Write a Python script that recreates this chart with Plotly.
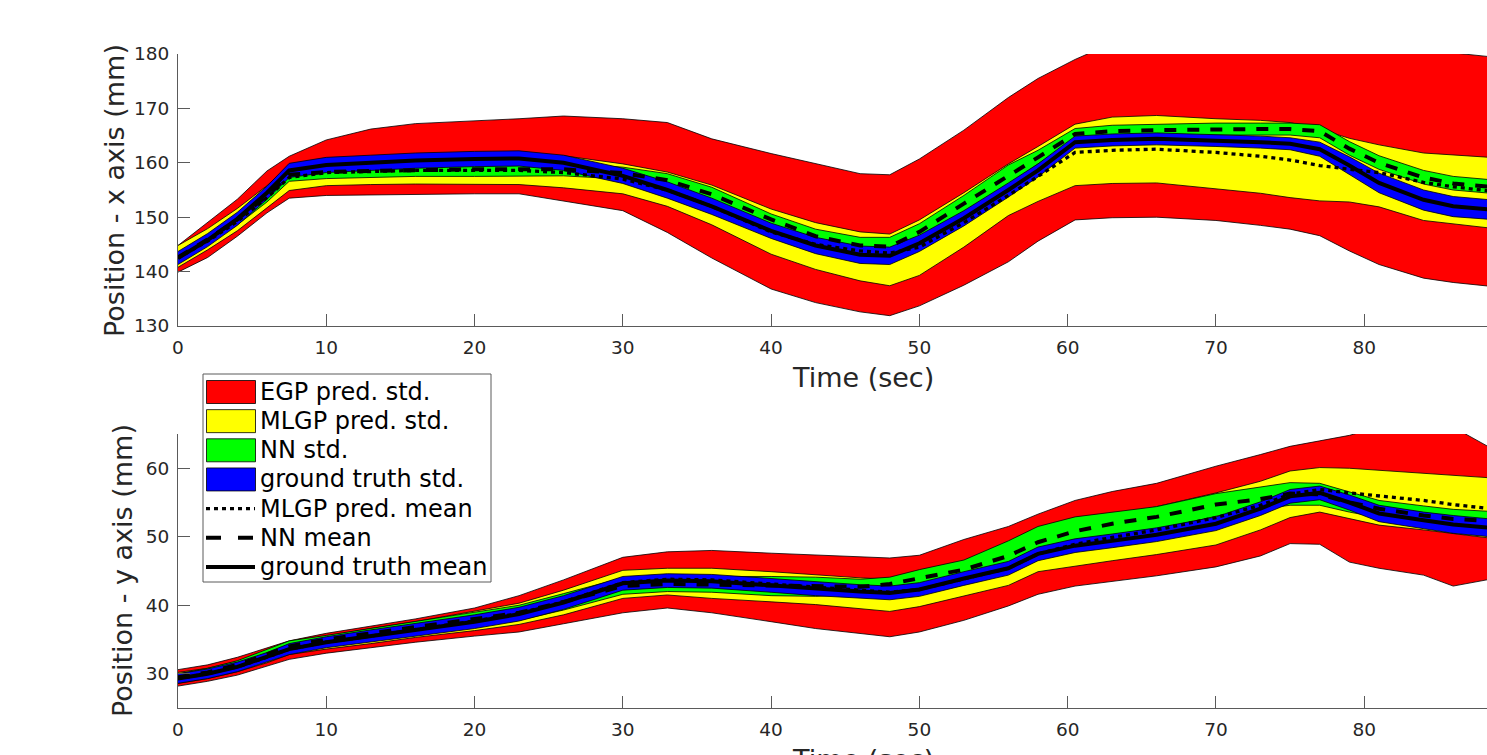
import plotly.graph_objects as go

# ---------------- data ----------------
t = [0, 2, 4, 6, 7.5, 10, 13, 16, 20, 23, 26, 30, 33, 36, 40, 43, 46, 48, 50, 53,
     56, 58, 60.5, 63, 66, 70, 73, 75, 77, 79, 81, 84, 86, 88.5]

# ---- top panel: x-axis position (mm) ----
gt_mean_x = [142.5, 145.8, 149.7, 154.5, 158.6, 159.6, 160.0, 160.4, 160.7, 160.8, 160.0, 157.6, 155.0, 152.0,
             147.5, 144.8, 143.1, 142.9, 145.2, 149.8, 155.0, 158.6, 163.8, 164.2, 164.4, 164.1, 163.8, 163.5,
             162.5, 159.5, 156.3, 153.2, 152.0, 151.4]
gt_lo_x = [141.3, 144.6, 148.5, 153.3, 157.3, 158.2, 158.6, 159.0, 159.3, 159.4, 158.6, 156.2, 153.5, 150.5,
           146.1, 143.3, 141.5, 141.3, 143.7, 148.4, 153.7, 157.4, 162.7, 163.1, 163.3, 163.0, 162.7, 162.4,
           161.2, 157.9, 154.5, 151.3, 150.1, 149.6]
gt_hi_x = [143.7, 147.0, 150.9, 155.7, 159.9, 161.0, 161.4, 161.8, 162.1, 162.2, 161.4, 159.0, 156.5, 153.5,
           148.9, 146.3, 144.7, 144.5, 146.7, 151.2, 156.3, 159.8, 164.9, 165.3, 165.5, 165.2, 164.9, 164.6,
           163.8, 161.1, 158.1, 155.0, 153.8, 153.2]
nn_mean_x = [142.6, 145.9, 149.6, 154.0, 157.8, 158.3, 158.5, 158.7, 158.8, 158.8, 158.8, 158.1, 156.8, 154.2,
             149.6, 146.5, 144.8, 144.6, 147.3, 152.5, 157.5, 161.0, 165.3, 165.8, 166.0, 166.2, 166.2, 166.2,
             165.8, 162.6, 160.0, 157.3, 156.2, 155.6]
nn_lo_x = [141.8, 145.1, 148.6, 152.8, 156.6, 157.1, 157.3, 157.5, 157.5, 157.5, 157.6, 157.0, 155.6, 153.0,
           148.5, 145.2, 143.2, 143.0, 145.8, 151.0, 156.0, 159.8, 164.2, 164.7, 164.9, 165.1, 165.1, 165.1,
           164.6, 161.4, 158.8, 156.1, 155.0, 154.4]
nn_hi_x = [143.4, 146.7, 150.6, 155.0, 158.8, 159.4, 159.6, 159.8, 159.9, 159.9, 160.0, 159.2, 158.0, 155.5,
           150.6, 147.8, 146.3, 146.3, 148.8, 154.0, 159.6, 162.3, 166.3, 166.9, 167.1, 167.3, 167.3, 167.3,
           167.0, 163.9, 161.3, 158.6, 157.5, 156.9]
mlgp_mean_x = [142.5, 145.6, 149.2, 153.6, 157.3, 158.2, 158.4, 158.6, 158.6, 158.6, 158.2, 157.0, 155.0, 152.0,
               147.3, 145.0, 143.8, 143.4, 144.5, 149.0, 154.0, 157.5, 161.9, 162.3, 162.5, 161.9, 161.2, 160.5,
               159.5, 158.8, 158.2, 156.4, 155.6, 154.8]
mlgp_lo_x = [140.8, 144.0, 147.5, 151.8, 154.9, 155.8, 156.0, 156.1, 156.1, 156.0, 155.4, 154.3, 152.0, 148.6,
             143.2, 140.4, 138.3, 137.4, 139.3, 144.5, 150.3, 152.9, 155.8, 156.2, 156.3, 155.2, 154.4, 153.6,
             153.0, 152.8, 151.9, 149.4, 148.8, 148.0]
mlgp_hi_x = [144.8, 147.9, 151.6, 155.8, 159.5, 160.4, 160.8, 161.0, 161.2, 161.3, 161.3, 159.8, 158.3, 155.9,
             151.5, 149.0, 147.3, 146.9, 149.5, 154.5, 159.8, 163.0, 167.1, 168.4, 168.7, 168.1, 167.8, 167.4,
             166.2, 164.5, 163.3, 161.8, 161.4, 161.0]
egp_lo_x = [139.9, 142.6, 146.5, 150.8, 153.5, 154.0, 154.0, 154.2, 154.3, 154.3, 153.0, 151.2, 147.2, 142.5,
            136.8, 134.3, 132.6, 131.9, 133.7, 137.5, 141.8, 145.6, 149.5, 149.9, 150.0, 149.4, 148.5, 147.8,
            146.6, 143.8, 141.3, 138.8, 138.0, 137.3]
egp_hi_x = [144.8, 149.0, 153.3, 158.5, 161.2, 164.2, 166.2, 167.2, 167.7, 168.1, 168.6, 168.1, 167.4, 164.4,
            161.7, 159.8, 158.0, 157.8, 160.7, 166.0, 172.0, 175.5, 179.0, 182.0, 182.0, 182.0, 182.0, 182.0,
            182.0, 182.0, 182.0, 182.0, 180.2, 179.5]

# ---- bottom panel: y-axis position (mm) ----
gt_mean_y = [29.3, 30.0, 31.0, 32.4, 33.6, 34.6, 35.5, 36.4, 37.6, 38.7, 40.4, 43.2, 43.6, 43.5, 42.9, 42.4,
             42.0, 41.8, 42.3, 43.9, 45.4, 47.5, 48.7, 49.4, 50.3, 51.9, 54.1, 55.9, 56.4, 55.0, 53.4, 52.4,
             51.8, 51.3]
gt_lo_y = [28.6, 29.3, 30.3, 31.7, 32.8, 33.8, 34.6, 35.5, 36.6, 37.7, 39.4, 42.2, 42.6, 42.5, 41.9, 41.4,
           41.0, 40.8, 41.3, 42.9, 44.4, 46.5, 47.7, 48.4, 49.3, 50.9, 53.1, 54.9, 55.4, 53.9, 52.2, 51.2,
           50.5, 50.0]
gt_hi_y = [30.0, 30.7, 31.7, 33.1, 34.4, 35.4, 36.4, 37.3, 38.6, 39.7, 41.4, 44.2, 44.6, 44.5, 43.9, 43.4,
           43.0, 42.8, 43.3, 44.9, 46.4, 48.5, 49.7, 50.4, 51.3, 52.9, 55.1, 56.9, 57.4, 56.1, 54.6, 53.6,
           53.1, 52.6]
nn_mean_y = [29.5, 30.2, 31.3, 32.8, 34.0, 35.0, 35.9, 36.8, 37.9, 38.9, 40.5, 42.8, 43.1, 43.0, 42.8, 42.7,
             42.7, 43.1, 44.0, 45.2, 47.2, 49.2, 50.8, 51.9, 52.9, 54.7, 55.5, 56.3, 56.2, 55.0, 54.1, 53.1,
             52.6, 52.3]
nn_lo_y = [29.0, 29.7, 30.7, 32.1, 33.3, 34.2, 35.0, 35.8, 36.9, 37.8, 39.3, 41.6, 42.0, 41.9, 41.4, 41.3,
           41.6, 42.1, 42.8, 43.8, 45.0, 46.9, 48.9, 50.2, 51.0, 53.0, 54.0, 54.6, 54.6, 53.6, 52.8, 51.7,
           51.2, 50.9]
nn_hi_y = [30.0, 30.8, 31.9, 33.5, 34.8, 35.6, 36.6, 37.6, 38.9, 40.0, 41.7, 44.0, 44.3, 44.2, 44.2, 44.1,
           43.8, 44.1, 45.2, 46.6, 49.4, 51.5, 52.9, 53.6, 54.4, 56.3, 57.3, 57.9, 57.8, 56.5, 55.3, 54.5,
           54.0, 53.7]
mlgp_mean_y = [29.3, 30.0, 31.0, 32.4, 33.6, 34.6, 35.5, 36.4, 37.7, 38.8, 40.5, 43.3, 43.8, 43.7, 43.1, 42.6,
               42.1, 41.9, 42.3, 43.9, 45.4, 47.5, 48.9, 49.9, 51.0, 52.8, 54.6, 56.2, 56.9, 56.4, 56.0, 55.3,
               54.7, 54.1]
mlgp_lo_y = [28.6, 29.3, 30.3, 31.6, 32.8, 33.6, 34.4, 35.3, 36.3, 37.2, 38.6, 41.0, 41.5, 41.0, 40.5, 40.1,
             39.5, 39.1, 39.8, 41.3, 42.9, 44.9, 45.7, 46.5, 47.4, 48.8, 51.0, 52.8, 53.6, 52.6, 51.7, 51.0,
             50.5, 49.8]
mlgp_hi_y = [30.2, 30.8, 31.8, 33.2, 34.5, 35.5, 36.6, 37.6, 39.1, 40.3, 42.2, 45.1, 45.4, 45.4, 44.9, 44.4,
             44.0, 43.8, 44.6, 46.2, 47.9, 50.0, 52.0, 53.0, 54.4, 56.4, 58.1, 59.6, 60.1, 60.0, 59.7, 59.3,
             59.0, 58.6]
egp_lo_y = [28.2, 28.9, 29.8, 31.1, 32.1, 33.0, 33.8, 34.6, 35.5, 36.1, 37.3, 38.9, 39.6, 38.9, 37.6, 36.6,
            35.9, 35.4, 36.1, 37.8, 39.9, 41.6, 42.8, 43.5, 44.3, 45.6, 47.2, 49.0, 48.9, 46.3, 45.4, 44.4,
            42.8, 43.8]
egp_hi_y = [30.6, 31.3, 32.4, 33.8, 34.8, 35.9, 37.0, 38.0, 39.6, 41.4, 43.7, 47.0, 47.8, 48.0, 47.6, 47.3,
            47.0, 46.9, 47.3, 49.6, 51.5, 53.3, 55.3, 56.6, 57.8, 60.3, 62.0, 63.2, 64.0, 64.8, 66.0, 66.0,
            66.0, 63.0]

x_ticks = [0, 10, 20, 30, 40, 50, 60, 70, 80]
y_ticks_top = [130, 140, 150, 160, 170, 180]
y_ticks_bot = [30, 40, 50, 60]

legend_names = ["EGP pred. std.", "MLGP pred. std.", "NN std.", "ground truth std.",
                "MLGP pred. mean", "NN mean", "ground truth mean"]

# ---------------- styles ----------------
C_EGP, C_MLGP, C_NN, C_GT = "#ff0000", "#ffff00", "#00ff00", "#0000ff"
DOT = "4px,4px"
DASH = "12px,11px"
LW = {"dot": 3.3, "dash": 4, "solid": 4}
FONT = "DejaVu Sans"
TXT = "#262626"
AXC = "#5a5a5a"

W, H = 1487, 755
ML, MR, MT, MB = 178, 0, 54, 47
PW, PH = W - ML - MR, H - MT - MB


def pxx(xp):
    return (xp - ML) / PW


def pyy(yp):
    return (H - MB - yp) / PH


fig = go.Figure()


def band(xa, ya, lo, hi, color):
    fig.add_trace(go.Scatter(x=t + t[::-1], y=hi + lo[::-1], fill="toself", fillcolor=color,
                             mode="lines", line=dict(color="black", width=0.8),
                             xaxis=xa, yaxis=ya, hoverinfo="skip", showlegend=False))


def curve(xa, ya, y, kind):
    dash = {"dot": DOT, "dash": DASH, "solid": "solid"}[kind]
    fig.add_trace(go.Scatter(x=t, y=y, mode="lines", line=dict(color="black", width=LW[kind], dash=dash),
                             xaxis=xa, yaxis=ya, hoverinfo="skip", showlegend=False))


for xa, ya, (elo, ehi, mlo, mhi, nlo, nhi, glo, ghi, mm, nm, gm) in [
    ("x", "y", (egp_lo_x, egp_hi_x, mlgp_lo_x, mlgp_hi_x, nn_lo_x, nn_hi_x, gt_lo_x, gt_hi_x,
                mlgp_mean_x, nn_mean_x, gt_mean_x)),
    ("x2", "y2", (egp_lo_y, egp_hi_y, mlgp_lo_y, mlgp_hi_y, nn_lo_y, nn_hi_y, gt_lo_y, gt_hi_y,
                  mlgp_mean_y, nn_mean_y, gt_mean_y)),
]:
    band(xa, ya, elo, ehi, C_EGP)
    band(xa, ya, mlo, mhi, C_MLGP)
    band(xa, ya, nlo, nhi, C_NN)
    band(xa, ya, glo, ghi, C_GT)
    curve(xa, ya, mm, "dot")
    curve(xa, ya, nm, "dash")
    curve(xa, ya, gm, "solid")

axis_common = dict(showline=True, linecolor=AXC, linewidth=1, ticks="inside", ticklen=12,
                   tickwidth=1, tickcolor=AXC, showgrid=False, zeroline=False, mirror=False,
                   tickfont=dict(family=FONT, size=18.5, color=TXT), automargin=False, fixedrange=True)

fig.update_layout(
    width=W, height=H, margin=dict(l=ML, r=MR, t=MT, b=MB, pad=0), autosize=False,
    paper_bgcolor="white", plot_bgcolor="white", showlegend=False,
    font=dict(family=FONT, color=TXT),
    xaxis=dict(domain=[0, 1], range=[0, 88.28], tickvals=x_ticks, anchor="y", ticklabelstandoff=5,
               **axis_common),
    yaxis=dict(domain=[pyy(326), 1], range=[130, 180], tickvals=y_ticks_top, anchor="x", ticklabelstandoff=4,
               **axis_common),
    xaxis2=dict(domain=[0, 1], range=[0, 88.28], tickvals=x_ticks, anchor="y2", ticklabelstandoff=5,
                **axis_common),
    yaxis2=dict(domain=[0, pyy(434)], range=[25, 65], tickvals=y_ticks_bot, anchor="x2", ticklabelstandoff=4,
                **axis_common),
)

# manual legend box and samples (MATLAB style)
patch_colors = [C_EGP, C_MLGP, C_NN, C_GT]
line_kinds = ["dot", "dash", "solid"]
fig.add_shape(type="rect", xref="paper", yref="paper", x0=pxx(203), x1=pxx(491), y0=pyy(582), y1=pyy(374),
              fillcolor="white", line=dict(color=AXC, width=1), layer="above")
for i, name in enumerate(legend_names):
    cy = 392 + 29.15 * i
    if i < 4:
        fig.add_shape(type="rect", xref="paper", yref="paper", x0=pxx(206.5), x1=pxx(255.5),
                      y0=pyy(cy + 11.5), y1=pyy(cy - 11.5), fillcolor=patch_colors[i],
                      line=dict(color="black", width=0.8), layer="above")
    else:
        k = line_kinds[i - 4]
        fig.add_shape(type="line", xref="paper", yref="paper", x0=pxx(206), x1=pxx(255),
                      y0=pyy(cy), y1=pyy(cy),
                      line=dict(color="black", width=LW[k], dash={"dot": DOT, "dash": "15px,17px",
                                                                   "solid": "solid"}[k]),
                      layer="above")
    fig.add_annotation(text=name, xref="paper", yref="paper", x=pxx(258), y=pyy(cy), xanchor="left",
                       yanchor="middle", showarrow=False, font=dict(family=FONT, size=24, color="black"))

# axis titles
title_font = dict(family=FONT, size=27, color=TXT)
fig.add_annotation(text="Position - x axis (mm)", xref="paper", yref="paper", x=pxx(114), y=pyy(191),
                   textangle=-90, xanchor="center", yanchor="middle", showarrow=False, font=title_font)
fig.add_annotation(text="Time (sec)", xref="paper", yref="paper", x=pxx(863), y=pyy(377),
                   xanchor="center", yanchor="middle", showarrow=False, font=title_font)
fig.add_annotation(text="Position - y axis (mm)", xref="paper", yref="paper", x=pxx(122), y=pyy(571),
                   textangle=-90, xanchor="center", yanchor="middle", showarrow=False, font=title_font)
fig.add_annotation(text="Time (sec)", xref="paper", yref="paper", x=pxx(863), y=pyy(759),
                   xanchor="center", yanchor="middle", showarrow=False, font=title_font)

post = ("document.body.style.margin='0px';document.body.style.overflow='hidden';"
        "var gd=document.getElementById('{plot_id}');"
        "if(gd){gd.style.width='1487px';gd.style.height='755px';"
        "Plotly.relayout(gd,{width:1487,height:755});}")
fig.write_html("out.html", post_script=post, config={"responsive": False, "displayModeBar": False})
